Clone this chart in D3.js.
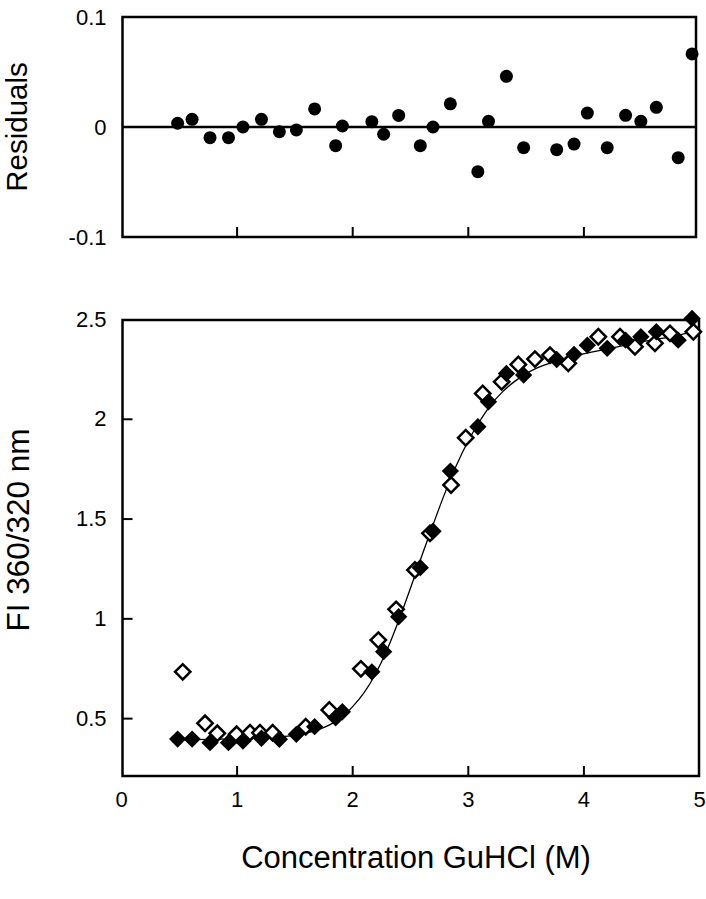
<!DOCTYPE html>
<html>
<head>
<meta charset="utf-8">
<script src="https://cdn.jsdelivr.net/npm/d3@7"></script>
<style>
  body { margin: 0; background: #fff; }
  text { font-family: "Liberation Sans", Arial, sans-serif; fill: #000; }
</style>
</head>
<body>
<div id="chart"></div>
<script>
var svgWidth = 706;
var svgHeight = 899;

// GuHCl concentration (M) of the filled series, shared with the residuals
var conc = [0.49, 0.615, 0.77, 0.93, 1.055, 1.215, 1.37, 1.517, 1.675, 1.857,
  1.915, 2.17, 2.272, 2.402, 2.589, 2.699, 2.849, 3.087, 3.179, 3.334,
  3.483, 3.769, 3.919, 4.034, 4.206, 4.365, 4.497, 4.631, 4.82, 4.94];
var filledFI = [0.395, 0.395, 0.377, 0.377, 0.385, 0.399, 0.394, 0.419, 0.457, 0.502,
  0.532, 0.732, 0.833, 1.008, 1.254, 1.437, 1.738, 1.960, 2.085, 2.227,
  2.219, 2.297, 2.323, 2.369, 2.353, 2.394, 2.411, 2.436, 2.394, 2.503];
var residuals = [0.0034, 0.0070, -0.0097, -0.0097, 0.0, 0.0070, -0.0043, -0.0027, 0.0164, -0.017,
  0.0009, 0.0048, -0.0066, 0.0105, -0.017, 0.0, 0.0211, -0.0406, 0.0052, 0.0461,
  -0.0188, -0.0206, -0.0155, 0.0127, -0.0188, 0.0106, 0.0052, 0.0179, -0.0279, 0.0664];

// open series
var openConc = [0.534, 0.727, 0.833, 1.0, 1.116, 1.202, 1.312, 1.598, 1.802, 2.075,
  2.226, 2.38, 2.543, 2.673, 2.855, 2.982, 3.129, 3.293, 3.437, 3.581,
  3.711, 3.869, 4.129, 4.317, 4.446, 4.619, 4.749, 4.951];
var openFI = [0.732, 0.474, 0.424, 0.419, 0.427, 0.427, 0.427, 0.457, 0.541, 0.747,
  0.891, 1.045, 1.242, 1.426, 1.668, 1.905, 2.127, 2.185, 2.272, 2.299,
  2.319, 2.278, 2.411, 2.411, 2.361, 2.378, 2.428, 2.436];

// fitted curve
var fitConc = [0.45, 0.8, 1.0, 1.2, 1.4, 1.6, 1.8, 1.9, 2.0, 2.1, 2.2, 2.3, 2.4, 2.5, 2.6, 2.7,
  2.8, 2.9, 3.0, 3.1, 3.2, 3.3, 3.4, 3.5, 3.6, 3.8, 4.0, 4.25, 4.5, 4.75, 4.95];
var fitFI = [0.392, 0.394, 0.396, 0.400, 0.407, 0.425, 0.465, 0.500, 0.555, 0.625, 0.720, 0.840,
  0.985, 1.145, 1.310, 1.470, 1.625, 1.765, 1.885, 1.985, 2.070, 2.135, 2.185, 2.225,
  2.255, 2.295, 2.325, 2.355, 2.385, 2.410, 2.435];

// ticks
var xTicks = [0, 1, 2, 3, 4, 5];
var xTickLabels = ["0", "1", "2", "3", "4", "5"];
var resTicks = [0.1, 0, -0.1];
var resTickLabels = ["0.1", "0", "-0.1"];
var fiTicks = [0.5, 1, 1.5, 2, 2.5];
var fiTickLabels = ["0.5", "1", "1.5", "2", "2.5"];

var svg = d3.select("#chart")
  .append("svg")
  .attr("width", svgWidth)
  .attr("height", svgHeight);

var xScale = d3.scaleLinear().domain([0, 5]).range([121, 699]);
var yRes = d3.scaleLinear().domain([-0.1, 0.1]).range([237, 17]);
var yFI = d3.scaleLinear().domain([0.21, 2.5]).range([776, 319]);

var labelFont = 22;

// ---- top panel: residuals ----
var resGroup = svg.append("g");

resGroup.append("rect")
  .attr("x", xScale(0) + 1.5)
  .attr("y", yRes(0.1))
  .attr("width", xScale(5) - xScale(0) - 4.5)
  .attr("height", yRes(-0.1) - yRes(0.1))
  .attr("fill", "none")
  .attr("stroke", "#000")
  .attr("stroke-width", 2.5);

resGroup.append("line")
  .attr("x1", xScale(0) + 1.5)
  .attr("x2", xScale(5) - 3)
  .attr("y1", yRes(0))
  .attr("y2", yRes(0))
  .attr("stroke", "#000")
  .attr("stroke-width", 2.5);

var resX = resGroup.append("g")
  .attr("transform", `translate(0, ${yRes(-0.1)})`)
  .call(d3.axisBottom(xScale).tickValues([1, 2, 3, 4]).tickSize(-10).tickFormat(""));
resX.select(".domain").remove();
resX.selectAll(".tick line").attr("stroke-width", 2);

var resY = resGroup.append("g")
  .attr("transform", `translate(${xScale(0) + 1.5}, 0)`)
  .call(d3.axisLeft(yRes).tickValues(resTicks).tickSize(0).tickPadding(16)
    .tickFormat((d, i) => resTickLabels[i]));
resY.select(".domain").remove();
resY.selectAll("text").attr("font-size", labelFont).style("font-family", "Liberation Sans, Arial, sans-serif");

resGroup.selectAll("circle")
  .data(conc)
  .enter()
  .append("circle")
  .attr("cx", d => xScale(d))
  .attr("cy", (d, i) => yRes(residuals[i]))
  .attr("r", 6.5)
  .attr("fill", "#000");

resGroup.append("text")
  .attr("transform", `translate(27, ${yRes(0)}) rotate(-90)`)
  .attr("text-anchor", "middle")
  .attr("font-size", 29.5)
  .text("Residuals");

// ---- bottom panel: FI 360/320 ----
var fiGroup = svg.append("g");

fiGroup.append("rect")
  .attr("x", xScale(0) + 1.5)
  .attr("y", yFI(2.5) + 1)
  .attr("width", xScale(5) - xScale(0) - 1.5)
  .attr("height", yFI(0.21) - yFI(2.5) - 1)
  .attr("fill", "none")
  .attr("stroke", "#000")
  .attr("stroke-width", 2.5);

var fiX = fiGroup.append("g")
  .attr("transform", `translate(0, ${yFI(0.21)})`)
  .call(d3.axisBottom(xScale).tickValues(xTicks).tickSize(-10).tickPadding(15)
    .tickFormat((d, i) => xTickLabels[i]));
fiX.select(".domain").remove();
fiX.selectAll(".tick line").attr("stroke-width", 2)
  .filter(d => d === 0 || d === 5).remove();
fiX.selectAll("text").attr("font-size", labelFont).style("font-family", "Liberation Sans, Arial, sans-serif");

var fiY = fiGroup.append("g")
  .attr("transform", `translate(${xScale(0) + 1.5}, 0)`)
  .call(d3.axisLeft(yFI).tickValues(fiTicks).tickSize(-10).tickPadding(16)
    .tickFormat((d, i) => fiTickLabels[i]));
fiY.select(".domain").remove();
fiY.selectAll(".tick line").attr("stroke-width", 2)
  .filter(d => d === 2.5).remove();
fiY.selectAll("text").attr("font-size", labelFont).style("font-family", "Liberation Sans, Arial, sans-serif");

var fitLine = d3.line()
  .x(d => xScale(d))
  .y((d, i) => yFI(fitFI[i]))
  .curve(d3.curveMonotoneX);

fiGroup.append("path")
  .datum(fitConc)
  .attr("d", fitLine)
  .attr("fill", "none")
  .attr("stroke", "#000")
  .attr("stroke-width", 1.3);

var openSymbol = d3.symbol().type(d3.symbolSquare).size(118);
var filledSymbol = d3.symbol().type(d3.symbolSquare).size(150);

fiGroup.selectAll(".open")
  .data(openConc)
  .enter()
  .append("path")
  .attr("class", "open")
  .attr("d", openSymbol)
  .attr("transform", (d, i) => `translate(${xScale(d)}, ${yFI(openFI[i])}) rotate(45)`)
  .attr("fill", "#fff")
  .attr("stroke", "#000")
  .attr("stroke-width", 2.5);

fiGroup.selectAll(".filled")
  .data(conc)
  .enter()
  .append("path")
  .attr("class", "filled")
  .attr("d", filledSymbol)
  .attr("transform", (d, i) => `translate(${xScale(d)}, ${yFI(filledFI[i])}) rotate(45)`)
  .attr("fill", "#000");

fiGroup.append("text")
  .attr("transform", `translate(29, 530) rotate(-90)`)
  .attr("text-anchor", "middle")
  .attr("font-size", 31.5)
  .text("FI 360/320 nm");

svg.append("text")
  .attr("x", 416)
  .attr("y", 868)
  .attr("text-anchor", "middle")
  .attr("font-size", 31)
  .text("Concentration GuHCl (M)");
</script>
</body>
</html>
